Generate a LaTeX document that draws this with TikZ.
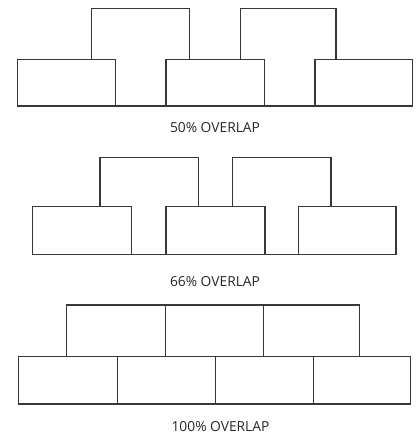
\documentclass[tikz,border=0pt]{standalone}
\usepackage{fontspec}
\setmainfont{Open Sans}
\begin{document}
\begin{tikzpicture}[x=1pt,y=-1pt,
  brick/.style={draw=black!78,line width=1.3pt,fill=white},
  lbl/.style={font=\fontsize{13.8}{16}\selectfont,text=black!85,inner sep=0pt,anchor=base}]
\useasboundingbox (0,0) rectangle (417,434);
% 50% overlap
\draw[brick] (91.3,8.3) rectangle (189.7,106);
\draw[brick] (240.3,8.3) rectangle (336,106);
\draw[brick] (17.3,59.5) rectangle (115.3,106);
\draw[brick] (166,59.5) rectangle (264.3,106);
\draw[brick] (315,59.5) rectangle (412.7,106);
\node[lbl] (l1) at (215,132.7) {50\% OVERLAP};
% 66% overlap
\draw[brick] (100,157.7) rectangle (198.7,254.3);
\draw[brick] (232.3,157.7) rectangle (331,254.3);
\draw[brick] (32.7,206.7) rectangle (131.7,254.3);
\draw[brick] (166,206.7) rectangle (265,254.3);
\draw[brick] (298.3,206.7) rectangle (396,254.3);
\node[lbl] (l2) at (215,286.7) {66\% OVERLAP};
% 100% overlap
\draw[brick] (66.7,305) rectangle (165.3,356.7);
\draw[brick] (165.3,305) rectangle (263.7,356.7);
\draw[brick] (263.7,305) rectangle (359.3,356.7);
\draw[brick] (18.7,356.7) rectangle (117.3,404);
\draw[brick] (117.3,356.7) rectangle (215.3,404);
\draw[brick] (215.3,356.7) rectangle (313.3,404);
\draw[brick] (313.3,356.7) rectangle (410.7,404);
\node[lbl] (l3) at (220.5,431.5) {100\% OVERLAP};
\end{tikzpicture}
\end{document}
